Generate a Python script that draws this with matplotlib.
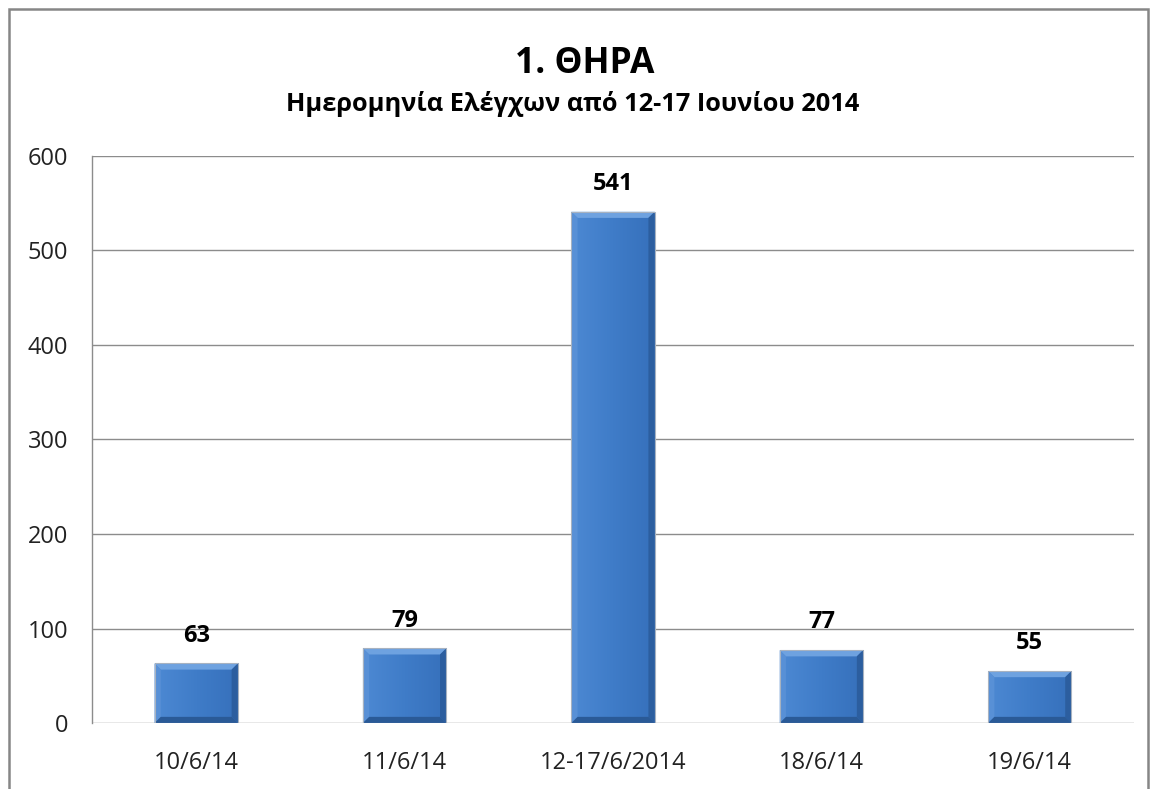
import matplotlib
matplotlib.use("Agg")
import matplotlib.pyplot as plt
import numpy as np
from matplotlib.patches import Rectangle, Polygon
from matplotlib.colors import LinearSegmentedColormap

categories = ["10/6/14", "11/6/14", "12-17/6/2014", "18/6/14", "19/6/14"]
values = [63, 79, 541, 77, 55]
yticks = [0, 100, 200, 300, 400, 500, 600]
title = "1. ΘΗΡΑ"
subtitle = "Ημερομηνία Ελέγχων από 12-17 Ιουνίου 2014"

plt.rcParams['font.family'] = ['Open Sans', 'DejaVu Sans']

fig = plt.figure(figsize=(11.5, 7.89), dpi=100)
fig.patch.set_facecolor('white')
ax = fig.add_axes([92/1150, 1-723/789, (1134-92)/1150, (723-156)/789])

x = np.arange(len(categories))
bars = ax.bar(x, values, width=0.4, color='#3f7ac4', edgecolor='none', zorder=3)

grad = np.linspace(0, 1, 256).reshape(1, -1)
cmap = LinearSegmentedColormap.from_list('b', ['#4d89d3', '#3f7cc8', '#3670bb'])
for b in bars:
    x0, w, h = b.get_x(), b.get_width(), b.get_height()
    im = ax.imshow(grad, extent=[x0, x0 + w, 0, h], aspect='auto', cmap=cmap, zorder=3.5)
    im.set_clip_path(b)
    bx = 0.03
    by = min(6.5, h * 0.3)
    top = Polygon([[x0, h], [x0 + w, h], [x0 + w - bx, h - by], [x0 + bx, h - by]],
                  closed=True, facecolor='#6ea2e0', edgecolor='none', zorder=4)
    left = Polygon([[x0, 0], [x0, h], [x0 + bx, h - by], [x0 + bx, by]],
                   closed=True, facecolor='#5890d6', edgecolor='none', zorder=4)
    right = Polygon([[x0 + w, 0], [x0 + w, h], [x0 + w - bx, h - by], [x0 + w - bx, by]],
                    closed=True, facecolor='#2c5e9f', edgecolor='none', zorder=4)
    bottom = Polygon([[x0, 0], [x0 + w, 0], [x0 + w - bx, by], [x0 + bx, by]],
                     closed=True, facecolor='#2a5a97', edgecolor='none', zorder=4)
    for p in (top, left, right, bottom):
        ax.add_patch(p)
    ax.add_patch(Rectangle((x0, 0), w, h, facecolor='none', edgecolor='#a7b2c0',
                           linewidth=0.8, zorder=4.5))
    ax.annotate(f"{int(h)}", (x0 + w / 2, h), xytext=(0, 20), textcoords='offset points',
                ha='center', va='center', fontsize=17, fontweight='bold', color='#000000')

ax.set_xlim(-0.5, len(categories) - 0.5)
ax.set_ylim(0, 600)
ax.set_yticks(yticks)
ax.set_yticklabels([str(t) for t in yticks], fontsize=17, color='#222222')
ax.set_xticks(x)
ax.set_xticklabels(categories, fontsize=17, color='#222222')
ax.tick_params(axis='both', length=0)
ax.tick_params(axis='y', pad=17)
ax.tick_params(axis='x', pad=20)
ax.grid(axis='y', color='#8c8c8c', linewidth=1.0, zorder=0)
ax.set_axisbelow(True)
for s in ['top', 'right', 'bottom']:
    ax.spines[s].set_visible(False)
ax.spines['left'].set_color('#8c8c8c')
ax.spines['left'].set_linewidth(1.0)

fig.text(585/1150, 1-64/789, title, ha='center', va='center', fontsize=25.5, fontweight='bold')
fig.text(573/1150, 1-104/789, subtitle, ha='center', va='center', fontsize=18.3, fontweight='bold')

fig.add_artist(Rectangle((9/1150, -0.01), (1148-9)/1150, 1-9/789 + 0.01, transform=fig.transFigure,
                         facecolor='none', edgecolor='#868686', linewidth=1.8))

fig.savefig('out.png', dpi=100, facecolor='white')
